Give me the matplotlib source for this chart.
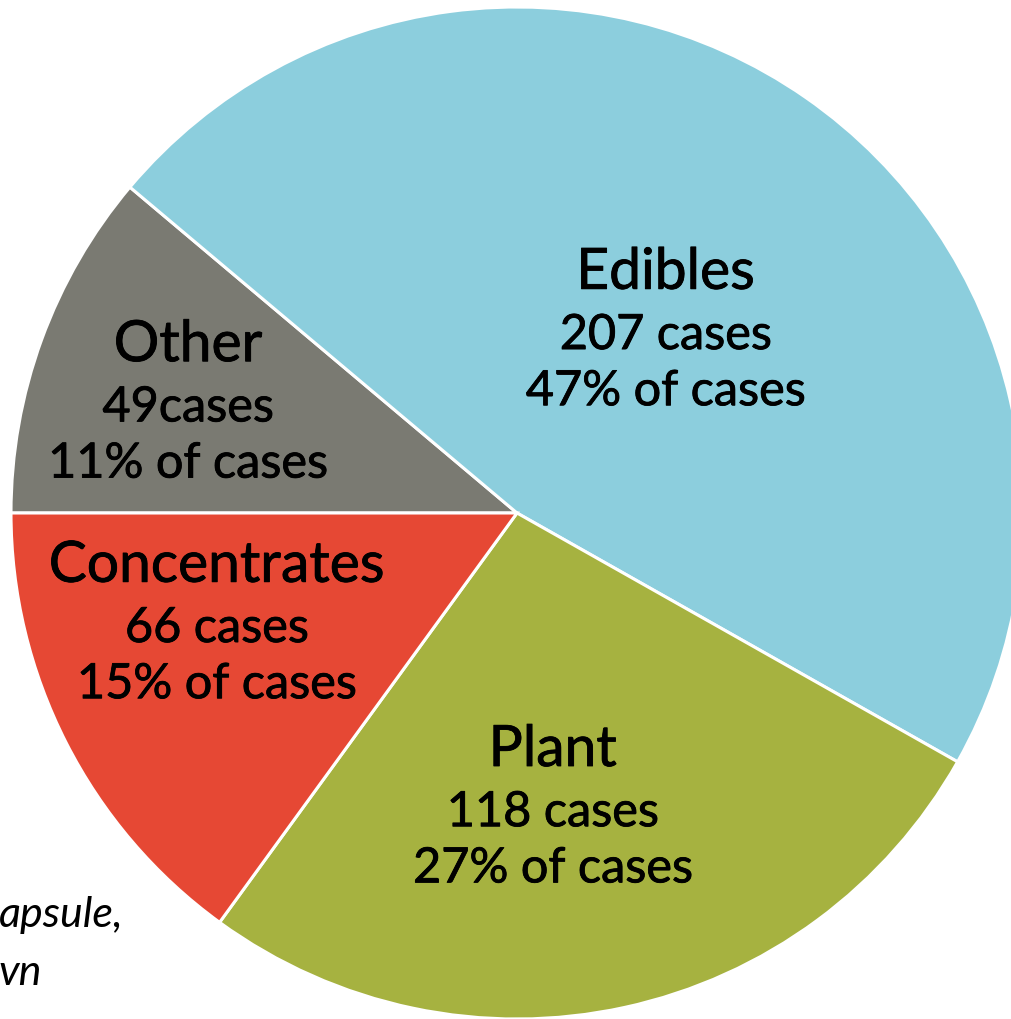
import matplotlib.pyplot as plt
import matplotlib.patheffects as pe

plt.rcParams['font.family'] = ['Lato', 'DejaVu Sans']

# case counts by product type, clockwise from 9 o'clock
categories = ['Other', 'Edibles', 'Plant', 'Concentrates']
cases = [49, 207, 118, 66]
percents = [11, 47, 27, 15]
count_labels = ['49cases', '207 cases', '118 cases', '66 cases']
colors = ['#7A7A72', '#8CCEDD', '#A6B240', '#E64834']

# label anchors (x centre, baseline of first line) in pie radius units
label_xy = [(-0.650, 0.300), (0.294, 0.443), (0.071, -0.500), (-0.593, -0.136)]
line_gaps = [0.119, 0.111]

fig = plt.figure(figsize=(10.12, 10.20), dpi=100)
ax = fig.add_axes([0, 0, 1, 1])

ax.pie(cases, colors=colors, startangle=180, counterclock=False, radius=1,
       wedgeprops=dict(edgecolor='white', linewidth=2.2))

# a thin stroke gives the labels a slightly heavier weight
heavy = [pe.withStroke(linewidth=0.6, foreground='black')]

for (x, y), name, cnt, pct in zip(label_xy, categories, count_labels, percents):
    ax.text(x, y, name, ha='center', va='baseline', fontsize=41, color='black',
            path_effects=heavy)
    ax.text(x, y - line_gaps[0], cnt, ha='center', va='baseline', fontsize=35,
            color='black', path_effects=heavy)
    ax.text(x, y - line_gaps[0] - line_gaps[1], f'{pct}% of cases', ha='center',
            va='baseline', fontsize=35, color='black', path_effects=heavy)

# leftover caption text running off the left edge
ax.text(-1.024, -0.817, 'apsule,', ha='left', va='baseline', fontsize=31,
        style='italic', color='black')
ax.text(-1.024, -0.930, 'vn', ha='left', va='baseline', fontsize=31,
        style='italic', color='black')

ax.set_xlim(-517 / 506, 495 / 506)
ax.set_ylim(-506 / 506, 514 / 506)
ax.set_aspect('auto')
ax.axis('off')

fig.savefig('out.png', dpi=100)
plt.close(fig)
